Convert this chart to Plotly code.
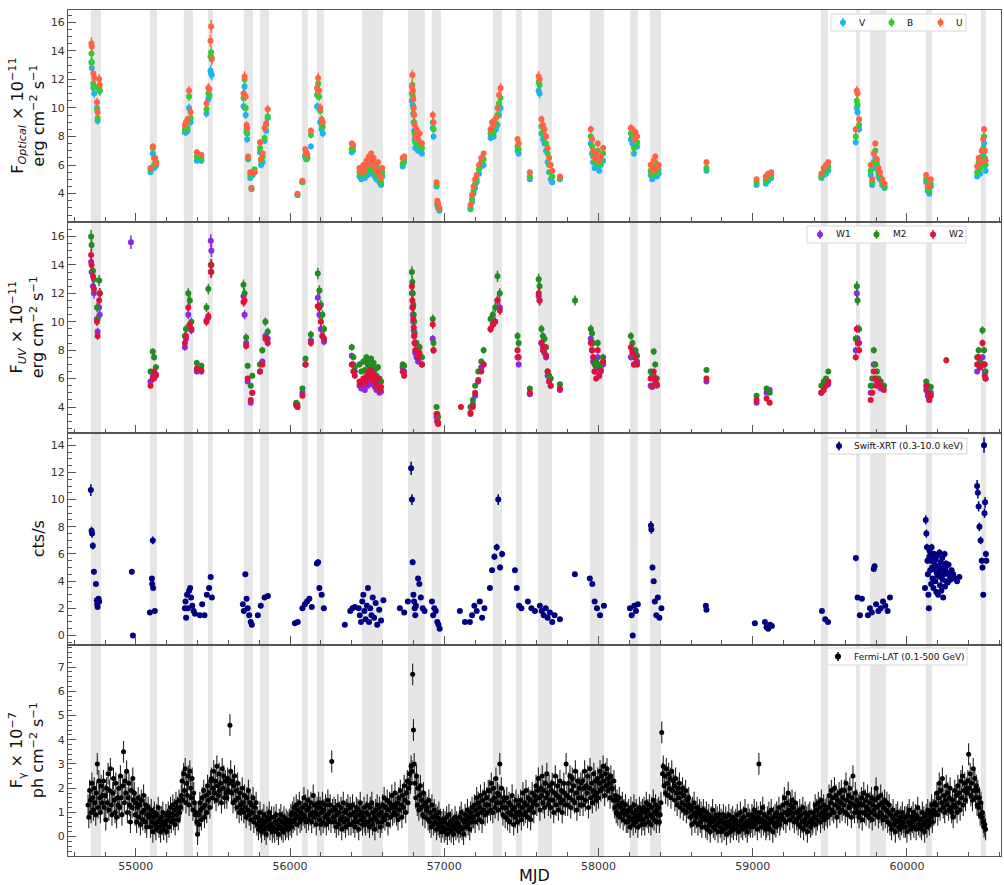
import numpy as np
import plotly.graph_objects as go
from plotly.subplots import make_subplots

# ---------------- Optical (Swift-UVOT V, B, U) ----------------
opt_mjd = [54712, 54714, 54724, 54730, 54748, 54752, 54762, 54766,
           55095, 55110, 55118, 55126, 55132,
           55318, 55325, 55335, 55345, 55355, 55395, 55425,
           55458, 55470, 55476, 55484, 55488, 55492,
           55698, 55705, 55712, 55718, 55722, 55728, 55742, 55750, 55758, 55770,
           55805, 55812, 55822, 55835, 55845, 55855,
           56048, 56080, 56098, 56106, 56112, 56135,
           56175, 56182, 56188, 56196, 56205, 56212,
           56400, 56408,
           56450, 56462, 56475, 56485, 56495, 56503, 56510, 56518, 56526, 56534, 56542, 56550, 56560, 56570, 56580, 56590, 56598,
           56730, 56740,
           56790, 56793, 56796, 56799, 56802, 56805, 56808, 56812, 56820, 56830, 56840, 56855,
           56925, 56930, 56950, 56955, 56960, 56968,
           57170, 57180, 57190, 57200, 57210, 57225, 57240, 57255,
           57300, 57310, 57320, 57335, 57345, 57355, 57365,
           57475, 57482, 57555,
           57612, 57618, 57630, 57640, 57650, 57660, 57670, 57680, 57690, 57700,
           57750,
           57950, 57958, 57965, 57975, 57985, 57995, 58005, 58015, 58030,
           58210, 58220, 58230, 58240, 58250,
           58338, 58348, 58358, 58368, 58378, 58390,
           58700, 59025, 59085, 59100, 59120,
           59445, 59460, 59475, 59490,
           59668, 59675, 59680, 59690,
           59765, 59775, 59785, 59795, 59805, 59815, 59825, 59840, 59855,
           60125, 60135, 60145, 60155,
           60455, 60465, 60475, 60485, 60495, 60500, 60505, 60510]
V = [13.2, 12.8, 11.4, 11.0, 10.0, 9.1, 11.4, 11.2,
     5.5, 6.8, 5.8, 5.9, 6.0,
     8.3, 8.3, 8.4, 10.0, 9.0, 6.3, 6.3,
     9.6, 10.6, 10.8, 12.6, 12.4, 12.3,
     10.1, 11.5, 9.5, 8.3, 7.8, 6.4, 5.1, 4.3, 5.3, 5.5,
     6.9, 6.0, 6.2, 7.7, 8.4, 9.3,
     3.9, 4.8, 6.6, 6.4, 6.5, 7.3,
     10.1, 11.2, 10.0, 9.0, 8.5, 8.2,
     6.9, 7.0,
     5.2, 5.0, 5.4, 5.1, 5.6, 5.3, 5.8, 5.5, 5.9, 5.4, 5.7, 5.2, 5.0, 5.5, 4.8, 4.6, 5.2,
     5.9, 6.2,
     10.5, 11.0, 10.2, 9.6, 9.0, 8.4, 7.8, 7.2, 7.5, 7.0, 7.3, 6.8,
     8.6, 8.0, 4.5, 3.2, 3.0, 2.8,
     2.9, 3.4, 4.0, 4.4, 4.8, 5.4, 5.9, 6.0,
     7.9, 8.3, 8.0, 8.5, 8.8, 9.5, 10.0,
     7.0, 6.8, 5.0,
     11.2, 11.0, 8.2, 7.8, 7.5, 7.0, 6.2, 5.5, 5.0, 4.8,
     5.0,
     7.5, 6.8, 6.2, 5.8, 6.0, 6.5, 5.6, 6.0, 6.3,
     7.8, 7.5, 6.8, 7.6, 7.3,
     5.3, 5.0, 5.5, 5.8, 5.2, 5.4,
     5.6, 4.6, 4.7, 4.9, 5.1,
     5.1, 5.3, 5.4, 5.6,
     7.6, 10.0, 9.7, 8.5,
     5.3, 4.6, 5.8, 6.5, 5.8, 5.2, 5.0, 4.6, 4.4,
     4.8, 4.2, 4.0, 4.5,
     5.2, 5.8, 5.4, 6.2, 6.8, 7.5, 6.0, 5.6]
B = [13.8, 13.2, 11.7, 11.5, 9.9, 9.3, 11.3, 11.2,
     5.7, 7.2, 6.0, 6.2, 6.2,
     8.5, 8.6, 8.6, 10.8, 9.3, 6.6, 6.5,
     9.9, 11.0, 10.9, 13.6, 13.9, 13.5,
     10.7, 12.0, 10.0, 8.5, 8.2, 6.5, 5.3, 4.4, 5.5, 5.7,
     7.2, 6.3, 6.6, 7.9, 8.8, 9.4,
     3.9, 4.8, 6.7, 6.4, 6.5, 8.1,
     10.9, 11.7, 10.8, 9.8, 8.8, 8.7,
     7.1, 7.3,
     5.5, 5.3, 5.7, 5.4, 6.0, 5.6, 6.2, 5.9, 6.3, 5.7, 6.1, 5.5, 5.3, 5.8, 5.0, 4.8, 5.5,
     6.1, 6.4,
     11.0, 11.6, 10.8, 10.0, 9.5, 9.0, 8.2, 7.6, 7.9, 7.4, 7.6, 7.2,
     9.0, 8.5, 4.6, 3.3, 3.1, 2.9,
     3.0, 3.6, 4.2, 4.7, 5.0, 5.7, 6.2, 6.4,
     8.2, 8.6, 8.3, 8.9, 9.5, 10.3, 10.7,
     7.3, 7.1, 5.2,
     11.8, 11.6, 8.7, 8.3, 8.0, 7.5, 6.8, 6.0, 5.5, 5.2,
     5.1,
     8.0, 7.3, 6.6, 6.2, 6.5, 7.0, 6.0, 6.3, 6.8,
     8.2, 8.0, 7.2, 8.0, 7.6,
     5.6, 5.3, 5.8, 6.2, 5.5, 5.7,
     5.8, 4.8, 4.9, 5.1, 5.3,
     5.2, 5.5, 5.7, 5.9,
     8.0, 10.5, 10.2, 8.8,
     5.6, 4.8, 6.2, 7.0, 6.1, 5.5, 5.2, 4.8, 4.5,
     5.0, 4.4, 4.2, 4.7,
     5.5, 6.2, 5.8, 6.6, 7.2, 8.0, 6.5, 6.0]
U = [14.5, 14.3, 12.4, 12.1, 10.4, 9.7, 12.0, 11.6,
     5.8, 7.3, 6.5, 6.5, 6.1,
     8.8, 9.0, 9.2, 11.2, 9.7, 6.9, 6.7,
     10.3, 11.4, 11.3, 14.7, 15.7, 13.4,
     11.0, 12.2, 10.8, 8.8, 8.6, 6.6, 5.5, 4.4, 5.5, 5.5,
     7.6, 6.4, 6.8, 8.6, 8.9, 9.9,
     4.0, 4.9, 7.1, 6.9, 6.7, 8.4,
     11.4, 12.1, 11.2, 10.0, 9.2, 9.0,
     7.5, 7.4,
     5.8, 5.5, 6.0, 5.6, 6.3, 6.0, 6.6, 6.2, 6.8, 6.1, 6.5, 5.9, 5.6, 6.2, 5.3, 5.1, 5.8,
     6.5, 6.6,
     11.5, 12.3, 11.2, 10.6, 10.0, 9.5, 8.8, 8.0, 8.5, 7.8, 8.2, 7.5,
     9.5, 9.0, 4.8, 3.5, 3.3, 3.0,
     3.2, 3.9, 4.5, 5.0, 5.3, 6.0, 6.5, 6.8,
     8.5, 9.0, 8.8, 9.3, 10.0, 10.9, 11.4,
     7.8, 7.5, 5.5,
     12.2, 12.0, 9.2, 8.8, 8.5, 8.0, 7.2, 6.5, 6.0, 5.6,
     5.2,
     8.5, 7.8, 7.0, 6.5, 6.8, 7.5, 6.3, 6.6, 7.2,
     8.6, 8.5, 7.8, 8.3, 8.0,
     6.0, 5.6, 6.3, 6.6, 5.8, 6.0,
     6.2, 5.0, 5.2, 5.4, 5.5,
     5.4, 5.8, 6.0, 6.2,
     8.5, 11.2, 11.0, 9.2,
     6.0, 5.0, 6.8, 7.5, 6.4, 5.8, 5.5, 5.0, 4.7,
     5.3, 4.6, 4.5, 5.0,
     5.9, 6.5, 6.2, 7.0, 7.8, 8.5, 7.0, 6.3]

# ---------------- UV (Swift-UVOT W1, M2, W2) ----------------
uv_mjd = [54710, 54713, 54722, 54728, 54748, 54752, 54762, 54766, 54968,
          55095, 55110, 55118, 55130,
          55318, 55325, 55340, 55350, 55360, 55395, 55425,
          55458, 55470, 55486, 55490,
          55698, 55705, 55715, 55725, 55745, 55755,
          55805, 55820, 55840, 55855,
          56040, 56048, 56080, 56100, 56135,
          56180, 56190, 56200, 56210, 56220,
          56400, 56410, 56420,
          56450, 56462, 56475, 56485, 56495, 56503, 56510, 56518, 56526, 56534, 56542, 56550, 56560, 56570, 56580, 56590,
          56730, 56740,
          56790, 56793, 56796, 56799, 56802, 56805, 56808, 56812, 56820, 56830, 56840, 56855,
          56925, 56930, 56950, 56955, 56960,
          57108,
          57170, 57185, 57200, 57220, 57240, 57255,
          57300, 57315, 57330, 57345, 57360,
          57475, 57482, 57555,
          57612, 57618, 57630, 57640, 57650, 57660, 57670, 57680, 57690,
          57750, 57848,
          57950, 57958, 57965, 57975, 57985, 57995, 58005, 58015, 58030,
          58210, 58220, 58230, 58240, 58250,
          58338, 58348, 58358, 58368, 58378,
          58700, 59025, 59090, 59110,
          59445, 59460, 59475, 59490,
          59668, 59675, 59680, 59690,
          59765, 59775, 59785, 59795, 59805, 59815, 59830, 59850,
          60125, 60135, 60145, 60155, 60255,
          60455, 60465, 60475, 60490, 60500, 60505, 60510]
W1 = [14.2, 13.5, 12.5, 12.0, 10.2, 9.3, 11.0, 10.5, 15.6,
      5.8, 6.2, 6.0, 6.3,
      8.2, 8.8, 10.5, 9.6, 9.4, 6.5, 6.5,
      10.1, 10.3, 15.7, 15.0,
      11.8, 10.5, 8.5, 5.8, 4.3, 5.0,
      6.5, 7.2, 9.0, 8.8,
      4.2, 4.0, 5.0, 7.0, 8.7,
      11.7, 10.5, 9.5, 9.0, 8.6,
      7.6, 7.0, 6.5,
      5.5, 5.3, 5.6, 5.2, 5.8, 5.5, 6.0, 5.7, 6.2, 5.6, 5.9, 5.4, 5.2, 5.7, 5.0, 5.1,
      6.8, 6.5,
      12.0, 11.0, 10.5, 10.0, 9.4, 9.0, 8.5, 7.8, 7.5, 7.2, 7.6, 7.0,
      8.8, 8.0, 3.3, 3.0, 2.9,
      None,
      3.5, 4.2, 4.8, 5.8, 6.8, 7.0,
      9.5, 9.8, 10.0, 11.5, 11.0,
      7.5, 7.0, 4.9,
      11.8, 11.5, 8.5, 8.2, 7.8, 7.5, 6.2, 5.8, 5.5,
      5.2, None,
      8.8, 8.0, 7.2, 6.5, 6.8, 7.5, 6.2, 6.5, 7.0,
      7.5, 8.0, 7.0, 7.8, 7.2,
      5.5, 5.4, 6.2, 5.8, 5.5,
      5.8, 4.3, 5.0, 5.2,
      5.0, 5.2, 5.8, 5.6,
      8.0, 12.0, 8.8, 8.5,
      5.0, 5.5, 7.0, 6.0, 5.8, 5.5, 5.3, 5.5,
      5.2, 4.8, 4.5, 5.0, None,
      6.5, 7.0, 6.8, 7.5, 7.0, 6.5, 6.0]
M2 = [16.0, 15.4, 13.6, 13.0, 11.0, 10.2, 12.9, 12.0, None,
      6.5, 7.9, 7.5, 6.8,
      9.0, 9.5, 12.0, 11.5, 10.0, 7.1, 6.9,
      11.0, 12.3, 14.0, 13.5,
      12.6, 12.0, 8.9, 6.9, 5.5, 6.2,
      7.0, 8.0, 10.0, 9.3,
      4.3, 4.2, 5.3, 7.4, 9.1,
      13.4, 12.2, 11.2, 10.5, 9.5,
      8.2, 7.5, 6.8,
      7.0, 6.5, 7.2, 6.6, 7.5, 7.0, 7.3, 6.8, 7.4, 6.9, 7.1, 6.6, 6.2, 6.8, 6.0, 5.8,
      7.0, 6.9,
      13.5, 12.8, 12.0, 11.2, 10.5, 10.0, 9.2, 8.5, 8.5, 8.0, 8.2, 7.5,
      10.2, 8.5, 4.0, 3.5, 3.3,
      None,
      4.0, 4.5, 5.5, 6.5, 7.2, 8.0,
      10.2, 10.5, 11.0, 13.2, 12.0,
      9.0, 8.5, 5.3,
      13.0, 12.5, 9.5, 9.0, 8.8, 8.2, 6.5, 6.2, 6.0,
      5.6, 11.5,
      9.5, 9.2, 8.5, 7.0, 7.2, 8.5, 6.8, 7.0, 7.5,
      9.0, 8.5, 7.5, 8.0, 7.6,
      6.5, 6.2, 7.9, 7.0, 6.0,
      6.6, 4.8, 5.3, 5.0,
      5.5, 5.8, 6.0, 6.5,
      8.8, 12.5, 11.5, 9.5,
      5.5, 6.0, 8.0, 7.0, 6.5, 6.0, 5.8, 5.5,
      5.8, 5.5, 5.0, 5.4, None,
      7.5, 8.0, 7.2, 9.4, 8.0, 7.0, 6.5]
W2 = [14.7, 14.0, 13.2, 12.3, 10.0, 9.0, 11.5, 12.0, None,
      5.5, 6.0, 6.5, 6.2,
      8.5, 9.0, 11.0, 9.8, 9.5, 6.7, 6.6,
      10.0, 10.4, 13.5, 14.0,
      11.4, 11.5, 8.3, 6.0, 4.5, 5.0,
      6.5, 7.0, 8.8, 8.5,
      4.1, 4.0, 4.8, 7.0, 8.5,
      11.1, 11.0, 10.0, 9.0, 8.8,
      7.0, 6.5, 6.2,
      5.8, 5.6, 6.0, 5.7, 6.2, 6.0, 6.5, 6.1, 6.6, 5.9, 6.3, 5.8, 5.5, 6.0, 5.2, 5.4,
      6.5, 6.2,
      12.5, 11.5, 11.0, 10.2, 9.6, 9.0, 8.5, 8.0, 8.0, 7.5, 7.8, 7.0,
      9.8, 8.0, 3.5, 3.0, 2.8,
      4.0,
      3.6, 4.0, 5.0, 5.9, 6.5, 7.0,
      9.5, 9.8, 10.0, 11.5, 10.8,
      8.0, 7.5, 5.0,
      12.0, 11.5, 8.5, 8.0, 8.2, 7.6, 6.5, 5.8, 5.5,
      5.3, None,
      8.5, 8.0, 7.5, 6.5, 6.0, 8.0, 6.2, 6.6, 7.2,
      8.2, 7.8, 7.0, 7.5, 7.0,
      6.0, 5.5, 6.5, 6.0, 5.6,
      6.0, 4.5, 4.6, 4.3,
      5.0, 5.2, 5.5, 5.8,
      7.5, 9.5, 8.5, 8.0,
      4.5, 5.0, 6.5, 6.0, 5.5, 5.8, 5.5, 5.2,
      5.5, 5.0, 4.5, 4.8, 7.3,
      7.0, 7.5, 6.8, 8.5, 7.0, 6.2, 6.0]

# ---------------- Swift-XRT (0.3-10.0 keV) ----------------
xrt_mjd = [54708, 54713, 54716, 54721, 54728, 54741, 54747, 54750, 54752, 54758, 54762,
           54974, 54981,
           55091, 55104, 55106, 55110, 55112, 55123,
           55318, 55322, 55326, 55332, 55338, 55345, 55352, 55358, 55366, 55375, 55383,
           55415, 55430, 55445, 55460, 55475, 55485, 55493,
           55694, 55700, 55710, 55718, 55725, 55735, 55745, 55752,
           55791, 55810, 55835, 55856,
           56031, 56050, 56080, 56096, 56110, 56125, 56141,
           56174, 56182, 56190, 56205, 56219,
           56355, 56390, 56405, 56420,
           56445, 56452, 56460, 56468, 56475, 56482, 56490, 56498, 56505, 56512, 56520, 56528, 56536, 56545, 56555, 56565, 56578, 56590, 56605,
           56712, 56740, 56764,
           56785, 56790, 56795, 56800, 56804, 56808, 56812, 56816,
           56830, 56838, 56848, 56860, 56872,
           56920, 56928, 56935, 56945, 56955, 56962, 56970,
           57101, 57134,
           57166, 57180, 57195, 57210, 57230, 57245, 57260,
           57296, 57310, 57325, 57340, 57350, 57362, 57375,
           57458, 57470, 57485, 57500,
           57542, 57565, 57588,
           57620, 57632, 57645, 57658, 57670, 57685, 57700, 57715,
           57750, 57847,
           57944, 57960, 57975, 57990, 58010, 58035,
           58204, 58215, 58222, 58232, 58243, 58255,
           58340, 58343, 58350, 58358, 58365, 58375, 58385, 58395, 58408,
           58696, 58700, 59014,
           59079, 59090, 59100, 59112, 59124,
           59449, 59470, 59488,
           59669, 59680, 59695, 59708,
           59747, 59760, 59772, 59785, 59790, 59800, 59815, 59830, 59845, 59860, 59875, 59890,
           60117, 60122, 60126, 60130, 60133, 60136, 60139, 60142, 60145, 60148,
           60151, 60154, 60157, 60160, 60163, 60166, 60169, 60172, 60175, 60178,
           60181, 60184, 60187, 60190, 60193, 60196, 60199, 60202, 60205, 60208,
           60211, 60214, 60217, 60220, 60223, 60226, 60229, 60232, 60235, 60238,
           60241, 60244, 60247, 60250, 60253, 60256, 60260, 60265, 60270, 60276,
           60282, 60290, 60300, 60312, 60325, 60340,
           60455, 60460, 60465, 60470, 60478, 60485, 60490, 60495, 60500, 60503, 60507, 60512, 60515]
xrt_rate = [10.7, 7.7, 7.5, 6.6, 4.7, 3.8, 2.6, 2.3, 2.1, 2.7, 2.5,
            4.7, 0.0,
            1.7, 4.2, 3.8, 7.0, 3.5, 1.8,
            2.0, 2.5, 1.3, 3.0, 2.0, 3.3, 3.5, 2.8, 2.2, 1.8, 1.6,
            1.5, 2.3, 1.5, 3.0, 3.5, 4.3, 2.8,
            2.3, 1.8, 4.5, 2.7, 2.0, 1.5, 1.0, 0.8,
            1.5, 2.2, 2.8, 2.9,
            0.9, 1.0, 2.0, 2.3, 2.5, 2.7, 2.1,
            5.3, 5.4, 3.5, 3.0, 2.0,
            0.8, 1.8, 2.0, 2.1,
            2.0, 1.5, 1.0, 2.5, 3.0, 1.8, 1.2, 2.2, 3.5, 1.0, 2.0, 1.5, 2.8, 1.3, 2.4, 0.8, 1.9, 1.1, 2.6,
            2.0, 1.7, 2.5,
            12.3, 10.0, 5.4, 3.0, 2.5, 2.0, 1.5, 2.2,
            4.2, 3.8, 2.8, 2.0, 1.8,
            2.5, 1.5, 2.0, 1.8, 1.0, 0.8, 0.5,
            1.8, 1.0,
            1.0, 1.5, 2.2, 1.8, 2.5, 1.3, 2.0,
            3.5, 4.8, 5.8, 6.5, 10.0, 5.0, 6.0,
            4.8, 3.5, 2.2, 2.0,
            2.5, 2.0, 1.8,
            2.2, 1.8, 1.5, 2.0, 1.3, 1.7, 1.0, 1.5,
            1.2, 4.5,
            4.2, 3.8, 2.5, 2.0, 1.5, 2.2,
            2.0, 1.5, 0.0, 2.2, 1.8, 2.3,
            8.1, 7.8, 5.0, 4.0, 2.5, 1.5, 2.8, 1.3, 2.0,
            2.2, 1.9, 0.9,
            1.0, 0.6, 0.5, 0.8, 0.7,
            1.8, 1.2, 1.0,
            5.7, 2.8, 1.5, 2.7,
            1.5, 2.0, 1.7, 4.9, 5.1, 2.3, 1.8, 2.0, 2.5, 2.2, 1.8, 2.8,
            3.5, 8.5, 7.5, 6.5, 5.5, 4.5, 3.0, 2.0, 5.8, 6.2,
            4.8, 5.5, 3.8, 6.5, 5.0, 4.2, 5.8, 3.5, 4.9, 6.0,
            5.2, 4.0, 5.6, 3.2, 4.6, 5.9, 4.4, 3.0, 5.1, 4.7,
            6.1, 3.7, 4.3, 5.4, 3.3, 4.8, 5.7, 4.1, 2.8, 5.0,
            4.5, 6.0, 3.6, 4.9, 5.3, 4.0, 4.6, 3.9, 5.2, 4.4,
            4.1, 4.8, 4.5, 4.2, 4.0, 4.3,
            11.0, 10.5, 9.5, 8.0, 7.0, 5.5, 5.0, 3.0, 14.0, 9.0, 9.8, 6.0, 5.5]

# ---------------- Fermi-LAT (0.1-500 GeV), 5-day bins from MJD 54690 ----------------
fermi_start = 54690
fermi_bin = 5
fermi_flux = [
    1.3, 0.8, 1.9, 1.5, 1.0, 2.2, 1.6, 1.1, 2.0, 1.4, 0.9, 1.8, 3.0, 1.2, 2.3, 1.6, 1.0, 2.1, 1.4, 1.7,
    2.3, 1.2, 1.7, 0.7, 2.0, 1.4, 2.6, 1.1, 1.9, 2.8, 1.3, 0.9, 1.8, 2.4, 1.5, 1.0, 2.2, 0.8, 1.6, 1.3,
    2.0, 1.2, 2.5, 1.6, 0.9, 2.1, 3.5, 1.4, 2.3, 1.8, 2.7, 1.0, 1.6, 2.2, 1.3, 0.6, 1.9, 1.2, 2.4, 1.5,
    1.8, 0.9, 1.4, 0.6, 1.2, 1.6, 0.8, 1.3, 0.5, 1.5, 1.0, 0.7, 1.7, 1.1, 0.6, 1.3, 0.4, 0.9, 1.2, 0.8,
    0.9, 0.4, 1.1, 0.6, 0.2, 0.8, 1.0, 0.5, 0.3, 0.9, 0.6, 1.2, 0.4, 0.7, 0.2, 0.8, 0.5, 1.0, 0.3, 0.6,
    0.5, 0.9, 0.2, 0.7, 1.0, 0.4, 0.8, 1.2, 0.6, 0.9, 1.3, 0.7, 1.1, 0.5, 1.4, 0.9, 1.2, 0.7, 1.5, 1.0,
    1.2, 1.7, 2.3, 1.5, 2.6, 1.9, 2.8, 1.4, 2.2, 1.7, 2.5, 1.3, 2.7, 2.0, 1.6, 2.4, 1.1, 1.8, 1.4, 0.9,
    1.0, 0.6, 0.1, 0.9, 0.5, 1.4, 1.1, 0.7, 1.6, 1.2, 1.9, 0.8, 1.3, 1.7, 1.0, 2.1, 1.5, 1.8, 1.2, 2.3,
    2.4, 1.6, 2.0, 2.7, 1.8, 2.3, 1.5, 2.9, 2.1, 1.7, 2.6, 1.9, 2.2, 1.4, 2.8, 2.0, 2.5, 1.6, 2.3, 1.8,
    1.6, 2.4, 1.9, 2.2, 4.6, 2.7, 1.8, 2.3, 1.4, 2.1, 2.5, 1.5, 1.9, 1.2, 2.2, 1.6, 1.0, 1.8, 1.3, 1.1,
    2.0, 1.4, 1.0, 1.7, 1.2, 0.8, 1.6, 1.1, 1.9, 0.9, 1.4, 0.7, 1.3, 1.0, 1.6, 0.6, 1.2, 0.8, 1.4, 0.5,
    0.8, 0.3, 0.6, 1.0, 0.4, 0.2, 0.7, 0.5, 0.9, 0.3, 0.6, 0.1, 0.8, 0.4, 0.7, 1.0, 0.3, 0.5, 0.8, 0.2,
    0.4, 0.8, 0.2, 0.6, 0.9, 0.3, 0.5, 0.1, 0.7, 0.4, 0.9, 0.3, 0.6, 0.2, 0.8, 0.5, 0.3, 0.7, 0.4, 0.6,
    0.3, 0.7, 0.5, 0.9, 0.4, 1.0, 0.6, 1.2, 0.7, 0.9, 1.3, 0.5, 1.1, 0.8, 1.4, 0.6, 1.0, 0.7, 1.2, 0.9,
    1.6, 0.8, 1.3, 0.6, 1.1, 1.5, 0.7, 1.2, 0.9, 1.4, 0.6, 1.0, 1.7, 0.8, 1.3, 1.0, 0.5, 1.2, 0.9, 1.4,
    0.7, 1.2, 0.5, 1.0, 1.4, 0.6, 1.1, 0.8, 1.3, 0.5, 0.9, 1.5, 0.7, 1.0, 1.3, 0.6, 3.1, 1.1, 0.8, 1.2,
    0.6, 1.1, 0.4, 0.9, 1.3, 0.5, 1.0, 0.7, 1.2, 0.3, 0.8, 1.4, 0.6, 1.0, 0.4, 1.1, 0.7, 1.3, 0.5, 0.9,
    1.2, 0.5, 0.9, 1.3, 0.6, 1.0, 0.4, 0.8, 1.2, 0.6, 1.1, 0.3, 0.9, 1.4, 0.7, 1.0, 0.5, 0.8, 1.2, 0.6,
    0.5, 1.0, 1.3, 0.6, 0.9, 0.4, 1.2, 0.7, 1.4, 0.5, 1.0, 0.8, 0.3, 1.1, 0.7, 1.3, 0.6, 0.9, 1.2, 0.4,
    1.0, 0.6, 1.3, 0.8, 1.6, 0.7, 1.2, 0.9, 1.5, 0.5, 1.1, 1.4, 0.8, 1.2, 1.7, 0.9, 1.3, 1.0, 1.8, 1.2,
    0.9, 1.4, 0.7, 1.6, 1.1, 1.9, 1.3, 0.8, 1.7, 1.2, 2.1, 1.5, 1.0, 1.8, 2.3, 1.4, 2.0, 2.6, 2.2, 2.9,
    2.7, 6.7, 4.4, 3.0, 2.2, 1.6, 2.5, 1.3, 2.0, 1.1, 1.7, 2.1, 1.2, 1.5, 0.9, 1.8, 1.3, 0.8, 1.4, 1.1,
    1.2, 0.7, 1.5, 0.6, 1.0, 0.4, 1.3, 0.8, 0.5, 1.1, 0.6, 0.9, 0.3, 0.8, 0.5, 1.0, 0.4, 0.7, 0.2, 0.6,
    0.4, 0.7, 0.2, 0.6, 0.3, 0.8, 0.1, 0.5, 0.9, 0.3, 0.6, 0.2, 0.7, 0.4, 0.1, 0.5, 0.8, 0.3, 0.6, 0.4,
    0.5, 0.2, 0.8, 0.4, 1.0, 0.3, 0.7, 0.1, 0.6, 0.9, 0.4, 0.7, 1.1, 0.5, 0.8, 0.3, 1.0, 0.6, 1.2, 0.8,
    0.8, 1.3, 0.6, 1.1, 1.6, 0.9, 1.4, 0.7, 1.2, 1.7, 1.0, 0.6, 1.5, 1.1, 1.8, 0.9, 1.3, 1.6, 1.0, 1.9,
    1.3, 1.9, 1.1, 2.2, 1.5, 1.0, 2.0, 1.6, 1.2, 2.4, 1.4, 1.8, 1.1, 1.7, 3.0, 1.4, 2.0, 1.2, 0.9, 1.6,
    1.5, 0.8, 1.2, 1.6, 0.7, 1.0, 1.4, 0.6, 1.3, 0.9, 1.7, 1.1, 0.5, 1.2, 0.8, 1.5, 1.0, 0.6, 1.3, 0.9,
    1.0, 1.5, 0.7, 1.2, 1.8, 0.9, 1.4, 1.0, 1.9, 1.3, 0.8, 1.6, 1.1, 1.5, 0.7, 1.2, 1.8, 1.4, 1.0, 1.7,
    1.5, 2.1, 1.3, 1.9, 2.4, 1.6, 1.1, 2.0, 1.7, 2.5, 1.4, 1.9, 1.2, 2.2, 1.6, 2.6, 1.8, 1.3, 2.1, 1.5,
    1.2, 1.9, 2.2, 1.5, 1.0, 1.8, 2.5, 1.3, 1.7, 2.1, 1.1, 1.6, 2.3, 1.4, 1.9, 1.0, 1.5, 2.2, 1.8, 1.3,
    3.0, 1.7, 1.3, 2.2, 1.6, 2.5, 1.2, 1.9, 2.4, 1.5, 2.1, 1.4, 2.7, 1.8, 1.1, 2.3, 1.6, 2.0, 1.3, 2.2,
    1.6, 2.3, 1.3, 2.0, 2.7, 1.5, 2.1, 1.8, 2.5, 1.2, 2.0, 2.8, 1.6, 2.2, 1.4, 1.9, 2.6, 1.7, 2.3, 1.5,
    1.8, 2.4, 1.6, 2.2, 2.7, 1.9, 2.5, 2.0, 2.9, 2.3, 1.7, 2.6, 2.1, 2.8, 1.9, 2.4, 2.2, 1.6, 2.5, 2.0,
    2.0, 1.5, 2.3, 1.2, 1.7, 1.0, 1.5, 0.9, 1.3, 1.6, 0.8, 1.2, 1.0, 1.4, 0.7, 1.1, 0.9, 1.3, 0.6, 1.0,
    0.6, 1.1, 0.8, 0.4, 1.2, 0.7, 1.0, 0.5, 1.3, 0.8, 0.6, 1.1, 0.9, 0.4, 0.7, 1.2, 0.8, 1.0, 0.5, 1.1,
    0.7, 1.2, 0.5, 1.0, 1.4, 0.8, 1.1, 0.6, 1.3, 0.9, 0.5, 1.2, 0.8, 1.5, 0.7, 1.0, 1.3, 0.6, 1.1, 0.9,
    1.2, 0.6, 0.9, 1.4, 4.3, 2.6, 2.9, 2.1, 2.5, 1.8, 2.8, 2.2, 1.7, 2.6, 2.0, 2.4, 1.6, 2.7, 1.9, 2.3,
    2.1, 1.5, 2.4, 1.8, 1.3, 2.0, 1.6, 2.2, 1.2, 1.8, 1.4, 2.0, 1.1, 1.7, 1.3, 1.9, 1.0, 1.5, 1.2, 1.6,
    1.3, 0.8, 1.1, 0.5, 1.2, 0.9, 1.4, 0.6, 1.0, 0.8, 1.2, 0.5, 0.9, 1.1, 0.6, 1.0, 0.4, 0.8, 1.1, 0.7,
    0.8, 0.4, 1.0, 0.3, 0.7, 0.9, 0.5, 0.2, 0.8, 0.6, 1.1, 0.4, 0.7, 0.3, 0.9, 0.5, 0.8, 0.2, 0.6, 0.9,
    0.4, 0.7, 0.2, 0.6, 0.9, 0.3, 0.5, 0.8, 0.1, 0.6, 0.4, 0.9, 0.5, 0.2, 0.7, 0.4, 0.8, 0.3, 0.6, 0.5,
    0.7, 0.3, 0.9, 0.5, 0.2, 0.6, 1.0, 0.4, 0.7, 0.3, 0.8, 0.5, 1.1, 0.4, 0.6, 0.2, 0.9, 0.5, 0.7, 0.4,
    0.6, 0.9, 0.4, 0.8, 1.1, 0.5, 0.7, 1.0, 0.3, 0.8, 3.0, 0.6, 1.0, 0.4, 0.7, 1.2, 0.5, 0.9, 0.6, 0.3,
    0.4, 0.8, 0.5, 1.0, 0.3, 0.7, 1.1, 0.6, 0.2, 0.8, 0.5, 0.9, 0.4, 1.0, 0.6, 0.8, 1.2, 0.5, 0.7, 0.9,
    0.8, 1.3, 0.7, 1.6, 1.0, 0.6, 1.4, 0.9, 1.8, 1.1, 0.7, 1.3, 1.0, 1.5, 0.8, 1.2, 0.6, 1.4, 1.0, 0.7,
    1.0, 0.5, 0.8, 1.1, 0.4, 0.9, 0.6, 1.2, 0.3, 0.7, 1.0, 0.5, 0.8, 0.2, 0.9, 0.6, 1.0, 0.4, 0.7, 0.5,
    0.6, 1.0, 0.8, 1.3, 0.5, 1.1, 0.7, 1.4, 0.9, 1.2, 0.6, 1.5, 1.0, 0.8, 1.3, 0.7, 1.1, 0.9, 1.2, 0.8,
    1.2, 1.7, 0.9, 1.4, 1.9, 1.1, 1.6, 1.0, 2.0, 1.3, 1.7, 0.8, 1.5, 1.2, 1.8, 1.0, 1.4, 1.9, 1.1, 1.6,
    1.3, 1.9, 1.0, 2.2, 1.5, 0.9, 1.7, 1.2, 2.0, 1.4, 0.8, 1.6, 2.5, 1.3, 1.0, 1.8, 1.2, 1.5, 1.0, 1.3,
    0.8, 1.4, 1.0, 1.6, 0.7, 1.3, 1.8, 1.0, 1.5, 0.9, 1.2, 1.7, 1.1, 0.8, 1.4, 1.0, 1.6, 0.7, 1.3, 1.1,
    1.5, 0.9, 2.0, 1.2, 1.6, 0.8, 1.3, 1.0, 1.7, 0.9, 1.4, 0.7, 1.2, 1.5, 0.8, 1.1, 1.4, 0.6, 1.0, 1.3,
    0.5, 0.9, 0.3, 0.8, 1.1, 0.5, 0.7, 0.2, 0.9, 0.6, 1.0, 0.4, 0.7, 0.3, 0.8, 0.5, 1.0, 0.6, 0.4, 0.8,
    0.4, 0.8, 0.2, 0.9, 0.6, 1.1, 0.5, 0.3, 0.8, 0.6, 1.0, 0.4, 0.7, 0.9, 0.3, 0.8, 1.2, 0.5, 0.7, 0.4,
    0.7, 0.3, 1.0, 0.5, 0.8, 0.2, 0.6, 0.9, 0.4, 1.1, 0.7, 0.5, 1.0, 0.8, 1.3, 0.6, 1.1, 0.9, 1.4, 1.0,
    1.3, 1.8, 0.9, 1.6, 2.2, 1.1, 1.9, 1.4, 2.4, 1.2, 1.7, 1.0, 1.5, 2.1, 1.3, 1.8, 1.1, 1.6, 2.0, 1.2,
    1.0, 1.5, 0.8, 1.3, 1.9, 1.2, 1.7, 1.0, 2.1, 1.4, 1.8, 1.1, 2.3, 1.6, 2.5, 1.3, 1.9, 2.2, 1.5, 2.0,
    1.8, 2.3, 3.4, 2.0, 2.6, 1.7, 2.2, 1.5, 2.8, 1.9, 2.4, 1.6, 2.1, 1.3, 1.9, 1.2, 1.6, 0.9, 1.4, 0.8,
    1.0, 0.6, 0.4, 0.5, 0.3]
fermi_mjd = fermi_start + fermi_bin * np.arange(len(fermi_flux))
fermi_err = 0.45

# ---------------- Shaded activity intervals (MJD start, end) ----------------
bands = [(54708, 54741), (54741, 54773), (55091, 55136), (55311, 55370), (55467, 55499),
         (55700, 55759), (55804, 55863), (56077, 56115), (56174, 56219),
         (56466, 56498), (56498, 56563), (56563, 56602), (56764, 56809), (56809, 56874),
         (56920, 56978), (57315, 57374), (57464, 57503), (57607, 57639), (57639, 57698),
         (57944, 58035), (58204, 58255), (58333, 58405), (59442, 59488), (59669, 59695),
         (59760, 59805), (59805, 59864), (60123, 60162), (60480, 60512)]

# ---------------- Figure ----------------
FONT = "DejaVu Sans"
fig = make_subplots(rows=4, cols=1, shared_xaxes=True, vertical_spacing=0)

def add_series(x, y, color, name, row, pct=3.0, size=6):
    fig.add_trace(go.Scatter(
        x=x, y=y, mode="markers", name=name, showlegend=False,
        marker=dict(color=color, size=size, line=dict(width=0)),
        error_y=dict(type="percent", value=pct, color=color, thickness=1.5, width=0),
    ), row=row, col=1)

C_V, C_B, C_U = "#1EB4F0", "#32CD32", "#FF6347"
C_W1, C_M2, C_W2 = "#8A2BE2", "#228B22", "#DC143C"
C_X, C_G = "#000080", "black"

add_series(opt_mjd, V, C_V, "V", 1)
add_series(opt_mjd, B, C_B, "B", 1)
add_series(opt_mjd, U, C_U, "U", 1)
add_series(uv_mjd, W1, C_W1, "W1", 2)
add_series(uv_mjd, M2, C_M2, "M2", 2)
add_series(uv_mjd, W2, C_W2, "W2", 2)
add_series(xrt_mjd, xrt_rate, C_X, "Swift-XRT (0.3-10.0 keV)", 3, pct=4.0)
fig.add_trace(go.Scatter(
    x=fermi_mjd, y=fermi_flux, mode="markers", name="Fermi-LAT (0.1-500 GeV)", showlegend=False,
    marker=dict(color="black", size=5),
    error_y=dict(type="constant", value=fermi_err, color="#222222", thickness=1.1, width=0),
), row=4, col=1)

for r in range(1, 5):
    for (a, b) in bands:
        fig.add_vrect(x0=a, x1=b, fillcolor="rgba(128,128,128,0.2)", line_width=0,
                      layer="below", row=r, col=1)

axis_common = dict(showline=True, linecolor="#555555", linewidth=1.2, mirror=True,
                   ticks="inside", tickcolor="#555555", ticklen=8, tickwidth=1,
                   showgrid=False, zeroline=False, automargin=False,
                   tickfont=dict(family=FONT, size=11, color="#333333"))
for r in range(1, 5):
    fig.update_xaxes(range=[54560, 60610], dtick=1000, tick0=55000, tickformat="d",
                     minor=dict(dtick=200, ticks="inside", ticklen=4, tickcolor="#555555"),
                     showticklabels=(r == 4), row=r, col=1, **axis_common)

ytitles = [
    "F<sub><i>Optical</i></sub> × 10<sup>−11</sup><br>erg cm<sup>−2</sup> s<sup>−1</sup>",
    "F<sub><i>UV</i></sub> × 10<sup>−11</sup><br>erg cm<sup>−2</sup> s<sup>−1</sup>",
    "cts/s",
    "F<sub>γ</sub> × 10<sup>−7</sup><br>ph cm<sup>−2</sup> s<sup>−1</sup>",
]
yranges = [[2.05, 16.85], [2.17, 17.06], [-0.66, 14.9], [-0.8, 7.93]]
ydt = [2, 2, 2, 1]
ymin = [0.5, 0.5, 0.5, 0.2]
for r in range(1, 5):
    fig.update_yaxes(range=yranges[r - 1], dtick=ydt[r - 1], tick0=0,
                     minor=dict(dtick=ymin[r - 1], ticks="inside", ticklen=4, tickcolor="#555555"),
                     row=r, col=1, **axis_common)

annots = []
for r in range(1, 5):
    yref = "y domain" if r == 1 else f"y{r} domain"
    annots.append(dict(text=ytitles[r - 1], textangle=-90, xref="paper", x=0, xshift=-18,
                       xanchor="right", yref=yref, y=0.5, yanchor="middle", showarrow=False,
                       font=dict(family=FONT, size=16, color="#111111")))
annots.append(dict(text="MJD", xref="paper", x=0.5, yref="paper", y=0, yshift=-19,
                   xanchor="center", yanchor="middle", showarrow=False,
                   font=dict(family=FONT, size=16, color="#111111")))

# ---------------- Legends (matplotlib style: marker with error bar) ----------------
L, R_, T, Bm = 68, 1001, 10, 856
def px(x):
    return (x - L) / (R_ - L)
def py(y):
    return (Bm - y) / (Bm - T)

legend_boxes = [
    dict(box=(831, 14, 966, 31), yc=22.5,
         items=[("V", C_V, 843, 858), ("B", C_B, 891.5, 906), ("U", C_U, 940.5, 955)]),
    dict(box=(807, 226, 966, 243), yc=234.5,
         items=[("W1", C_W1, 820, 835), ("M2", C_M2, 876.5, 892), ("W2", C_W2, 933, 948)]),
    dict(box=(827, 438, 967, 454), yc=446,
         items=[("Swift-XRT (0.3-10.0 keV)", C_X, 839, 853)]),
    dict(box=(827, 648, 967, 665), yc=656.5,
         items=[("Fermi-LAT (0.1-500 GeV)", C_G, 838, 853)]),
]
shapes = []
for lg in legend_boxes:
    x0, y0, x1, y1 = lg["box"]
    shapes.append(dict(type="rect", xref="paper", yref="paper",
                       x0=px(x0), x1=px(x1), y0=py(y1), y1=py(y0),
                       fillcolor="rgba(255,255,255,0.85)", line=dict(color="#D8D8D8", width=1),
                       layer="above"))
    for (label, col, mx, tx) in lg["items"]:
        shapes.append(dict(type="line", xref="paper", yref="paper",
                           xsizemode="pixel", ysizemode="pixel",
                           xanchor=px(mx), yanchor=py(lg["yc"]),
                           x0=0, x1=0, y0=-4.5, y1=4.5,
                           line=dict(color=col, width=1.5), layer="above"))
        shapes.append(dict(type="circle", xref="paper", yref="paper",
                           xsizemode="pixel", ysizemode="pixel",
                           xanchor=px(mx), yanchor=py(lg["yc"]),
                           x0=-3, x1=3, y0=-3, y1=3,
                           fillcolor=col, line=dict(color=col, width=0), layer="above"))
        annots.append(dict(text=label, xref="paper", yref="paper", x=px(tx), y=py(lg["yc"]),
                           xanchor="left", yanchor="middle", showarrow=False, borderpad=0,
                           font=dict(family=FONT, size=9, color="#111111")))

fig.update_layout(
    width=1004, height=885,
    margin=dict(l=68, r=3, t=10, b=29, autoexpand=False),
    plot_bgcolor="white", paper_bgcolor="white",
    font=dict(family=FONT),
    annotations=annots,
    showlegend=False,
)
for s in shapes:
    fig.add_shape(**s)

fig.write_html("out.html", config={"displayModeBar": False},
               post_script="document.body.style.margin='0px';document.body.style.overflow='hidden';")
